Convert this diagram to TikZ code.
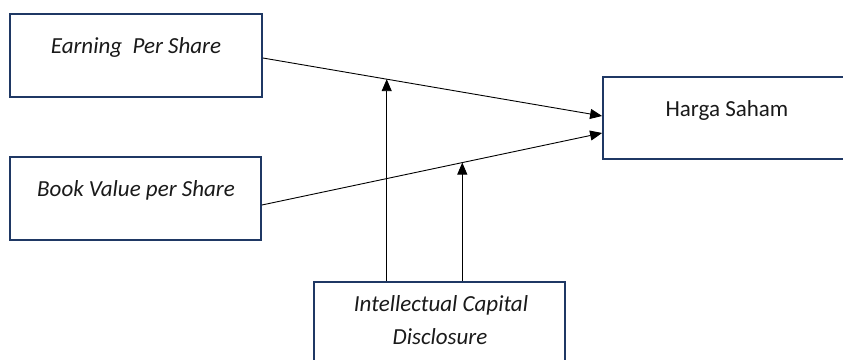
\documentclass[tikz,border=0pt]{standalone}
\usepackage{fontspec}
\setmainfont{Carlito}
\usetikzlibrary{arrows.meta,calc}
\definecolor{boxblue}{HTML}{1F3864}
\definecolor{txt}{HTML}{1A1A1A}
\tikzset{
  varbox/.style={draw=boxblue, line width=1.8pt, fill=white, rectangle, inner sep=0pt},
  lbl/.style={font=\fontsize{23}{27}\selectfont, text=txt, inner sep=0pt, align=center},
  conn/.style={line width=0.9pt, -{Triangle[length=12pt,width=10pt]}}
}
\begin{document}
\begin{tikzpicture}[x=1pt,y=-1pt]
\useasboundingbox (0,0) rectangle (843,359);
\clip (0,0) rectangle (843,359);
\fill[white] (0,0) rectangle (843,359);
% boxes
\node[varbox, minimum width=252pt, minimum height=83pt] (eps) at (136,55.5) {};
\node[varbox, minimum width=251pt, minimum height=83pt] (bvps) at (135.5,198.5) {};
\node[varbox, minimum width=250pt, minimum height=82pt] (hs) at (728,118) {};
\node[varbox, minimum width=251pt, minimum height=100pt] (icd) at (439.5,332) {};
% labels
\node[lbl] (epst) at (136,47) {\itshape Earning\ \ Per Share};
\node[lbl] (bvpst) at (136,190) {\itshape Book Value per Share};
\node[lbl] (hst) at (727,110) {Harga Saham};
\node[lbl] (icdt1) at (441,305) {\itshape Intellectual Capital};
\node[lbl] (icdt2) at (440,337) {\itshape Disclosure};
% connector end points
\coordinate (e1) at ([yshift=-2.5pt]eps.east);
\coordinate (h1) at ([yshift=2pt]hs.west);
\coordinate (b1) at ([yshift=-6.5pt]bvps.east);
\coordinate (h2) at ([yshift=-15pt]hs.west);
\draw[conn] (e1) -- (h1);
\draw[conn] (b1) -- (h2);
\coordinate (m1) at ($(e1)!0.365!(h1)$);
\coordinate (m2) at ($(b1)!0.589!(h2)$);
\draw[conn] (m1 |- icd.north) -- (m1);
\draw[conn] (m2 |- icd.north) -- (m2);
\end{tikzpicture}
\end{document}
